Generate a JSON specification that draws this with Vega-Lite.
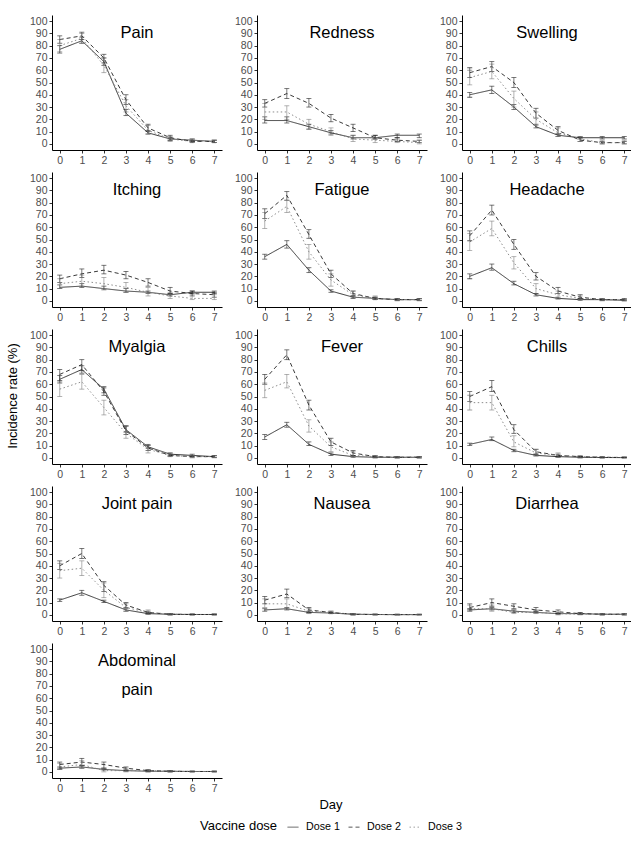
{
"$schema":"https://vega.github.io/schema/vega-lite/v6.json",
"padding":{"left":7,"top":15,"right":2,"bottom":5},
"title":{"text":"Incidence rate  (%)","orient":"left","anchor":"middle","fontSize":13,"fontWeight":"normal","font":"Liberation Sans","color":"#000","offset":9,"dx":28},
"data":{"values":[
{"symptom":"Pain","dose":"Dose 1","day":0,"rate":77,"lo":74,"hi":80},{"symptom":"Pain","dose":"Dose 1","day":1,"rate":84,"lo":82,"hi":87},{"symptom":"Pain","dose":"Dose 1","day":2,"rate":67,"lo":64,"hi":70},{"symptom":"Pain","dose":"Dose 1","day":3,"rate":25,"lo":23,"hi":28},{"symptom":"Pain","dose":"Dose 1","day":4,"rate":9,"lo":8,"hi":11},{"symptom":"Pain","dose":"Dose 1","day":5,"rate":4,"lo":3,"hi":5},{"symptom":"Pain","dose":"Dose 1","day":6,"rate":3,"lo":2,"hi":4},{"symptom":"Pain","dose":"Dose 1","day":7,"rate":2,"lo":1,"hi":3},
{"symptom":"Pain","dose":"Dose 2","day":0,"rate":85,"lo":82,"hi":88},{"symptom":"Pain","dose":"Dose 2","day":1,"rate":88,"lo":85,"hi":91},{"symptom":"Pain","dose":"Dose 2","day":2,"rate":70,"lo":66,"hi":73},{"symptom":"Pain","dose":"Dose 2","day":3,"rate":36,"lo":32,"hi":40},{"symptom":"Pain","dose":"Dose 2","day":4,"rate":13,"lo":10,"hi":16},{"symptom":"Pain","dose":"Dose 2","day":5,"rate":5,"lo":3,"hi":7},{"symptom":"Pain","dose":"Dose 2","day":6,"rate":2,"lo":1,"hi":3},{"symptom":"Pain","dose":"Dose 2","day":7,"rate":2,"lo":1,"hi":3},
{"symptom":"Pain","dose":"Dose 3","day":0,"rate":80,"lo":75,"hi":85},{"symptom":"Pain","dose":"Dose 3","day":1,"rate":86,"lo":82,"hi":90},{"symptom":"Pain","dose":"Dose 3","day":2,"rate":64,"lo":58,"hi":70},{"symptom":"Pain","dose":"Dose 3","day":3,"rate":31,"lo":26,"hi":36},{"symptom":"Pain","dose":"Dose 3","day":4,"rate":11,"lo":8,"hi":15},{"symptom":"Pain","dose":"Dose 3","day":5,"rate":4,"lo":2,"hi":6},{"symptom":"Pain","dose":"Dose 3","day":6,"rate":2,"lo":1,"hi":4},{"symptom":"Pain","dose":"Dose 3","day":7,"rate":2,"lo":1,"hi":3},
{"symptom":"Redness","dose":"Dose 1","day":0,"rate":19,"lo":17,"hi":22},{"symptom":"Redness","dose":"Dose 1","day":1,"rate":19,"lo":17,"hi":22},{"symptom":"Redness","dose":"Dose 1","day":2,"rate":14,"lo":12,"hi":16},{"symptom":"Redness","dose":"Dose 1","day":3,"rate":9,"lo":8,"hi":11},{"symptom":"Redness","dose":"Dose 1","day":4,"rate":5,"lo":4,"hi":7},{"symptom":"Redness","dose":"Dose 1","day":5,"rate":5,"lo":4,"hi":7},{"symptom":"Redness","dose":"Dose 1","day":6,"rate":7,"lo":5,"hi":8},{"symptom":"Redness","dose":"Dose 1","day":7,"rate":7,"lo":5,"hi":8},
{"symptom":"Redness","dose":"Dose 2","day":0,"rate":33,"lo":30,"hi":36},{"symptom":"Redness","dose":"Dose 2","day":1,"rate":41,"lo":37,"hi":45},{"symptom":"Redness","dose":"Dose 2","day":2,"rate":33,"lo":30,"hi":37},{"symptom":"Redness","dose":"Dose 2","day":3,"rate":21,"lo":18,"hi":24},{"symptom":"Redness","dose":"Dose 2","day":4,"rate":13,"lo":10,"hi":16},{"symptom":"Redness","dose":"Dose 2","day":5,"rate":5,"lo":4,"hi":7},{"symptom":"Redness","dose":"Dose 2","day":6,"rate":3,"lo":2,"hi":5},{"symptom":"Redness","dose":"Dose 2","day":7,"rate":2,"lo":1,"hi":3},
{"symptom":"Redness","dose":"Dose 3","day":0,"rate":26,"lo":20,"hi":33},{"symptom":"Redness","dose":"Dose 3","day":1,"rate":26,"lo":20,"hi":31},{"symptom":"Redness","dose":"Dose 3","day":2,"rate":16,"lo":12,"hi":20},{"symptom":"Redness","dose":"Dose 3","day":3,"rate":10,"lo":7,"hi":13},{"symptom":"Redness","dose":"Dose 3","day":4,"rate":4,"lo":2,"hi":7},{"symptom":"Redness","dose":"Dose 3","day":5,"rate":3,"lo":1,"hi":5},{"symptom":"Redness","dose":"Dose 3","day":6,"rate":2,"lo":1,"hi":4},{"symptom":"Redness","dose":"Dose 3","day":7,"rate":1,"lo":0,"hi":3},
{"symptom":"Swelling","dose":"Dose 1","day":0,"rate":40,"lo":38,"hi":42},{"symptom":"Swelling","dose":"Dose 1","day":1,"rate":44,"lo":41,"hi":47},{"symptom":"Swelling","dose":"Dose 1","day":2,"rate":30,"lo":28,"hi":32},{"symptom":"Swelling","dose":"Dose 1","day":3,"rate":14,"lo":13,"hi":16},{"symptom":"Swelling","dose":"Dose 1","day":4,"rate":7,"lo":6,"hi":8},{"symptom":"Swelling","dose":"Dose 1","day":5,"rate":5,"lo":4,"hi":6},{"symptom":"Swelling","dose":"Dose 1","day":6,"rate":5,"lo":4,"hi":6},{"symptom":"Swelling","dose":"Dose 1","day":7,"rate":5,"lo":4,"hi":6},
{"symptom":"Swelling","dose":"Dose 2","day":0,"rate":58,"lo":54,"hi":62},{"symptom":"Swelling","dose":"Dose 2","day":1,"rate":63,"lo":59,"hi":67},{"symptom":"Swelling","dose":"Dose 2","day":2,"rate":50,"lo":46,"hi":54},{"symptom":"Swelling","dose":"Dose 2","day":3,"rate":25,"lo":21,"hi":29},{"symptom":"Swelling","dose":"Dose 2","day":4,"rate":11,"lo":8,"hi":14},{"symptom":"Swelling","dose":"Dose 2","day":5,"rate":3,"lo":2,"hi":5},{"symptom":"Swelling","dose":"Dose 2","day":6,"rate":1,"lo":0,"hi":2},{"symptom":"Swelling","dose":"Dose 2","day":7,"rate":1,"lo":0,"hi":2},
{"symptom":"Swelling","dose":"Dose 3","day":0,"rate":54,"lo":48,"hi":60},{"symptom":"Swelling","dose":"Dose 3","day":1,"rate":59,"lo":53,"hi":65},{"symptom":"Swelling","dose":"Dose 3","day":2,"rate":37,"lo":30,"hi":43},{"symptom":"Swelling","dose":"Dose 3","day":3,"rate":20,"lo":15,"hi":26},{"symptom":"Swelling","dose":"Dose 3","day":4,"rate":9,"lo":6,"hi":13},{"symptom":"Swelling","dose":"Dose 3","day":5,"rate":4,"lo":2,"hi":6},{"symptom":"Swelling","dose":"Dose 3","day":6,"rate":1,"lo":0,"hi":3},{"symptom":"Swelling","dose":"Dose 3","day":7,"rate":1,"lo":0,"hi":3},
{"symptom":"Itching","dose":"Dose 1","day":0,"rate":11,"lo":10,"hi":13},{"symptom":"Itching","dose":"Dose 1","day":1,"rate":12,"lo":11,"hi":14},{"symptom":"Itching","dose":"Dose 1","day":2,"rate":10,"lo":9,"hi":12},{"symptom":"Itching","dose":"Dose 1","day":3,"rate":8,"lo":7,"hi":10},{"symptom":"Itching","dose":"Dose 1","day":4,"rate":7,"lo":6,"hi":8},{"symptom":"Itching","dose":"Dose 1","day":5,"rate":5,"lo":4,"hi":6},{"symptom":"Itching","dose":"Dose 1","day":6,"rate":7,"lo":6,"hi":8},{"symptom":"Itching","dose":"Dose 1","day":7,"rate":7,"lo":6,"hi":8},
{"symptom":"Itching","dose":"Dose 2","day":0,"rate":18,"lo":15,"hi":21},{"symptom":"Itching","dose":"Dose 2","day":1,"rate":22,"lo":19,"hi":26},{"symptom":"Itching","dose":"Dose 2","day":2,"rate":25,"lo":22,"hi":29},{"symptom":"Itching","dose":"Dose 2","day":3,"rate":21,"lo":18,"hi":24},{"symptom":"Itching","dose":"Dose 2","day":4,"rate":15,"lo":12,"hi":18},{"symptom":"Itching","dose":"Dose 2","day":5,"rate":8,"lo":6,"hi":11},{"symptom":"Itching","dose":"Dose 2","day":6,"rate":6,"lo":4,"hi":8},{"symptom":"Itching","dose":"Dose 2","day":7,"rate":5,"lo":3,"hi":7},
{"symptom":"Itching","dose":"Dose 3","day":0,"rate":14,"lo":10,"hi":18},{"symptom":"Itching","dose":"Dose 3","day":1,"rate":16,"lo":12,"hi":21},{"symptom":"Itching","dose":"Dose 3","day":2,"rate":14,"lo":10,"hi":19},{"symptom":"Itching","dose":"Dose 3","day":3,"rate":11,"lo":7,"hi":15},{"symptom":"Itching","dose":"Dose 3","day":4,"rate":7,"lo":4,"hi":11},{"symptom":"Itching","dose":"Dose 3","day":5,"rate":4,"lo":2,"hi":7},{"symptom":"Itching","dose":"Dose 3","day":6,"rate":2,"lo":1,"hi":5},{"symptom":"Itching","dose":"Dose 3","day":7,"rate":2,"lo":1,"hi":5},
{"symptom":"Fatigue","dose":"Dose 1","day":0,"rate":36,"lo":34,"hi":38},{"symptom":"Fatigue","dose":"Dose 1","day":1,"rate":46,"lo":43,"hi":49},{"symptom":"Fatigue","dose":"Dose 1","day":2,"rate":25,"lo":23,"hi":27},{"symptom":"Fatigue","dose":"Dose 1","day":3,"rate":8,"lo":7,"hi":9},{"symptom":"Fatigue","dose":"Dose 1","day":4,"rate":3,"lo":2,"hi":4},{"symptom":"Fatigue","dose":"Dose 1","day":5,"rate":2,"lo":1,"hi":3},{"symptom":"Fatigue","dose":"Dose 1","day":6,"rate":1,"lo":0.5,"hi":2},{"symptom":"Fatigue","dose":"Dose 1","day":7,"rate":1,"lo":0.5,"hi":2},
{"symptom":"Fatigue","dose":"Dose 2","day":0,"rate":71,"lo":67,"hi":75},{"symptom":"Fatigue","dose":"Dose 2","day":1,"rate":86,"lo":82,"hi":89},{"symptom":"Fatigue","dose":"Dose 2","day":2,"rate":54,"lo":51,"hi":58},{"symptom":"Fatigue","dose":"Dose 2","day":3,"rate":22,"lo":19,"hi":25},{"symptom":"Fatigue","dose":"Dose 2","day":4,"rate":6,"lo":4,"hi":8},{"symptom":"Fatigue","dose":"Dose 2","day":5,"rate":2,"lo":1,"hi":3},{"symptom":"Fatigue","dose":"Dose 2","day":6,"rate":1,"lo":0.5,"hi":2},{"symptom":"Fatigue","dose":"Dose 2","day":7,"rate":1,"lo":0.5,"hi":2},
{"symptom":"Fatigue","dose":"Dose 3","day":0,"rate":65,"lo":59,"hi":72},{"symptom":"Fatigue","dose":"Dose 3","day":1,"rate":77,"lo":72,"hi":82},{"symptom":"Fatigue","dose":"Dose 3","day":2,"rate":40,"lo":34,"hi":46},{"symptom":"Fatigue","dose":"Dose 3","day":3,"rate":17,"lo":12,"hi":22},{"symptom":"Fatigue","dose":"Dose 3","day":4,"rate":5,"lo":3,"hi":8},{"symptom":"Fatigue","dose":"Dose 3","day":5,"rate":2,"lo":1,"hi":4},{"symptom":"Fatigue","dose":"Dose 3","day":6,"rate":1,"lo":0,"hi":2},{"symptom":"Fatigue","dose":"Dose 3","day":7,"rate":1,"lo":0,"hi":2},
{"symptom":"Headache","dose":"Dose 1","day":0,"rate":20,"lo":18,"hi":22},{"symptom":"Headache","dose":"Dose 1","day":1,"rate":27,"lo":25,"hi":30},{"symptom":"Headache","dose":"Dose 1","day":2,"rate":14,"lo":13,"hi":16},{"symptom":"Headache","dose":"Dose 1","day":3,"rate":5,"lo":4,"hi":6},{"symptom":"Headache","dose":"Dose 1","day":4,"rate":2,"lo":1.5,"hi":3},{"symptom":"Headache","dose":"Dose 1","day":5,"rate":1,"lo":0.5,"hi":2},{"symptom":"Headache","dose":"Dose 1","day":6,"rate":1,"lo":0.5,"hi":1.5},{"symptom":"Headache","dose":"Dose 1","day":7,"rate":0.5,"lo":0,"hi":1},
{"symptom":"Headache","dose":"Dose 2","day":0,"rate":53,"lo":49,"hi":57},{"symptom":"Headache","dose":"Dose 2","day":1,"rate":74,"lo":70,"hi":78},{"symptom":"Headache","dose":"Dose 2","day":2,"rate":46,"lo":42,"hi":50},{"symptom":"Headache","dose":"Dose 2","day":3,"rate":20,"lo":17,"hi":23},{"symptom":"Headache","dose":"Dose 2","day":4,"rate":8,"lo":6,"hi":11},{"symptom":"Headache","dose":"Dose 2","day":5,"rate":3,"lo":2,"hi":5},{"symptom":"Headache","dose":"Dose 2","day":6,"rate":1,"lo":0.5,"hi":2},{"symptom":"Headache","dose":"Dose 2","day":7,"rate":1,"lo":0.5,"hi":2},
{"symptom":"Headache","dose":"Dose 3","day":0,"rate":48,"lo":41,"hi":55},{"symptom":"Headache","dose":"Dose 3","day":1,"rate":59,"lo":53,"hi":65},{"symptom":"Headache","dose":"Dose 3","day":2,"rate":31,"lo":26,"hi":36},{"symptom":"Headache","dose":"Dose 3","day":3,"rate":10,"lo":6,"hi":14},{"symptom":"Headache","dose":"Dose 3","day":4,"rate":5,"lo":2,"hi":8},{"symptom":"Headache","dose":"Dose 3","day":5,"rate":2,"lo":1,"hi":4},{"symptom":"Headache","dose":"Dose 3","day":6,"rate":1,"lo":0,"hi":2},{"symptom":"Headache","dose":"Dose 3","day":7,"rate":0.5,"lo":0,"hi":1.5},
{"symptom":"Myalgia","dose":"Dose 1","day":0,"rate":64,"lo":61,"hi":67},{"symptom":"Myalgia","dose":"Dose 1","day":1,"rate":72,"lo":69,"hi":75},{"symptom":"Myalgia","dose":"Dose 1","day":2,"rate":56,"lo":53,"hi":58},{"symptom":"Myalgia","dose":"Dose 1","day":3,"rate":23,"lo":21,"hi":26},{"symptom":"Myalgia","dose":"Dose 1","day":4,"rate":9,"lo":8,"hi":11},{"symptom":"Myalgia","dose":"Dose 1","day":5,"rate":3,"lo":2,"hi":4},{"symptom":"Myalgia","dose":"Dose 1","day":6,"rate":2,"lo":1,"hi":3},{"symptom":"Myalgia","dose":"Dose 1","day":7,"rate":1,"lo":0.5,"hi":2},
{"symptom":"Myalgia","dose":"Dose 2","day":0,"rate":68,"lo":63,"hi":72},{"symptom":"Myalgia","dose":"Dose 2","day":1,"rate":76,"lo":71,"hi":80},{"symptom":"Myalgia","dose":"Dose 2","day":2,"rate":54,"lo":51,"hi":57},{"symptom":"Myalgia","dose":"Dose 2","day":3,"rate":22,"lo":19,"hi":26},{"symptom":"Myalgia","dose":"Dose 2","day":4,"rate":8,"lo":6,"hi":10},{"symptom":"Myalgia","dose":"Dose 2","day":5,"rate":2,"lo":1,"hi":3},{"symptom":"Myalgia","dose":"Dose 2","day":6,"rate":1,"lo":0.5,"hi":2},{"symptom":"Myalgia","dose":"Dose 2","day":7,"rate":1,"lo":0.5,"hi":2},
{"symptom":"Myalgia","dose":"Dose 3","day":0,"rate":56,"lo":50,"hi":62},{"symptom":"Myalgia","dose":"Dose 3","day":1,"rate":62,"lo":56,"hi":68},{"symptom":"Myalgia","dose":"Dose 3","day":2,"rate":41,"lo":35,"hi":47},{"symptom":"Myalgia","dose":"Dose 3","day":3,"rate":20,"lo":16,"hi":26},{"symptom":"Myalgia","dose":"Dose 3","day":4,"rate":7,"lo":4,"hi":10},{"symptom":"Myalgia","dose":"Dose 3","day":5,"rate":2,"lo":1,"hi":4},{"symptom":"Myalgia","dose":"Dose 3","day":6,"rate":1,"lo":0,"hi":2},{"symptom":"Myalgia","dose":"Dose 3","day":7,"rate":1,"lo":0,"hi":2},
{"symptom":"Fever","dose":"Dose 1","day":0,"rate":17,"lo":15,"hi":19},{"symptom":"Fever","dose":"Dose 1","day":1,"rate":27,"lo":25,"hi":29},{"symptom":"Fever","dose":"Dose 1","day":2,"rate":11,"lo":10,"hi":13},{"symptom":"Fever","dose":"Dose 1","day":3,"rate":3,"lo":2,"hi":4},{"symptom":"Fever","dose":"Dose 1","day":4,"rate":1,"lo":0.5,"hi":2},{"symptom":"Fever","dose":"Dose 1","day":5,"rate":0.5,"lo":0,"hi":1},{"symptom":"Fever","dose":"Dose 1","day":6,"rate":0.5,"lo":0,"hi":1},{"symptom":"Fever","dose":"Dose 1","day":7,"rate":0.5,"lo":0,"hi":1},
{"symptom":"Fever","dose":"Dose 2","day":0,"rate":64,"lo":60,"hi":68},{"symptom":"Fever","dose":"Dose 2","day":1,"rate":84,"lo":80,"hi":88},{"symptom":"Fever","dose":"Dose 2","day":2,"rate":43,"lo":39,"hi":47},{"symptom":"Fever","dose":"Dose 2","day":3,"rate":13,"lo":10,"hi":16},{"symptom":"Fever","dose":"Dose 2","day":4,"rate":4,"lo":2,"hi":6},{"symptom":"Fever","dose":"Dose 2","day":5,"rate":1,"lo":0.5,"hi":2},{"symptom":"Fever","dose":"Dose 2","day":6,"rate":0.5,"lo":0,"hi":1},{"symptom":"Fever","dose":"Dose 2","day":7,"rate":0.5,"lo":0,"hi":1},
{"symptom":"Fever","dose":"Dose 3","day":0,"rate":55,"lo":49,"hi":61},{"symptom":"Fever","dose":"Dose 3","day":1,"rate":62,"lo":57,"hi":68},{"symptom":"Fever","dose":"Dose 3","day":2,"rate":26,"lo":21,"hi":31},{"symptom":"Fever","dose":"Dose 3","day":3,"rate":9,"lo":5,"hi":13},{"symptom":"Fever","dose":"Dose 3","day":4,"rate":2,"lo":1,"hi":5},{"symptom":"Fever","dose":"Dose 3","day":5,"rate":1,"lo":0,"hi":2},{"symptom":"Fever","dose":"Dose 3","day":6,"rate":0.5,"lo":0,"hi":1},{"symptom":"Fever","dose":"Dose 3","day":7,"rate":0.5,"lo":0,"hi":1},
{"symptom":"Chills","dose":"Dose 1","day":0,"rate":11,"lo":10,"hi":12},{"symptom":"Chills","dose":"Dose 1","day":1,"rate":15,"lo":14,"hi":17},{"symptom":"Chills","dose":"Dose 1","day":2,"rate":6,"lo":5,"hi":7},{"symptom":"Chills","dose":"Dose 1","day":3,"rate":2,"lo":1.5,"hi":3},{"symptom":"Chills","dose":"Dose 1","day":4,"rate":1,"lo":0.5,"hi":1.5},{"symptom":"Chills","dose":"Dose 1","day":5,"rate":0.5,"lo":0,"hi":1},{"symptom":"Chills","dose":"Dose 1","day":6,"rate":0.3,"lo":0,"hi":0.6},{"symptom":"Chills","dose":"Dose 1","day":7,"rate":0.2,"lo":0,"hi":0.5},
{"symptom":"Chills","dose":"Dose 2","day":0,"rate":50,"lo":46,"hi":54},{"symptom":"Chills","dose":"Dose 2","day":1,"rate":58,"lo":54,"hi":63},{"symptom":"Chills","dose":"Dose 2","day":2,"rate":23,"lo":20,"hi":27},{"symptom":"Chills","dose":"Dose 2","day":3,"rate":5,"lo":3,"hi":7},{"symptom":"Chills","dose":"Dose 2","day":4,"rate":2,"lo":1,"hi":3},{"symptom":"Chills","dose":"Dose 2","day":5,"rate":1,"lo":0.5,"hi":1.5},{"symptom":"Chills","dose":"Dose 2","day":6,"rate":0.5,"lo":0,"hi":1},{"symptom":"Chills","dose":"Dose 2","day":7,"rate":0.3,"lo":0,"hi":0.6},
{"symptom":"Chills","dose":"Dose 3","day":0,"rate":45,"lo":39,"hi":51},{"symptom":"Chills","dose":"Dose 3","day":1,"rate":45,"lo":39,"hi":51},{"symptom":"Chills","dose":"Dose 3","day":2,"rate":13,"lo":9,"hi":18},{"symptom":"Chills","dose":"Dose 3","day":3,"rate":4,"lo":2,"hi":7},{"symptom":"Chills","dose":"Dose 3","day":4,"rate":2,"lo":0.5,"hi":4},{"symptom":"Chills","dose":"Dose 3","day":5,"rate":1,"lo":0,"hi":2},{"symptom":"Chills","dose":"Dose 3","day":6,"rate":0.5,"lo":0,"hi":1},{"symptom":"Chills","dose":"Dose 3","day":7,"rate":0.3,"lo":0,"hi":1},
{"symptom":"Joint pain","dose":"Dose 1","day":0,"rate":12,"lo":11,"hi":13},{"symptom":"Joint pain","dose":"Dose 1","day":1,"rate":18,"lo":16,"hi":20},{"symptom":"Joint pain","dose":"Dose 1","day":2,"rate":11,"lo":10,"hi":12},{"symptom":"Joint pain","dose":"Dose 1","day":3,"rate":4,"lo":3,"hi":5},{"symptom":"Joint pain","dose":"Dose 1","day":4,"rate":1,"lo":0.5,"hi":2},{"symptom":"Joint pain","dose":"Dose 1","day":5,"rate":0.5,"lo":0,"hi":1},{"symptom":"Joint pain","dose":"Dose 1","day":6,"rate":0.3,"lo":0,"hi":0.6},{"symptom":"Joint pain","dose":"Dose 1","day":7,"rate":0.3,"lo":0,"hi":0.6},
{"symptom":"Joint pain","dose":"Dose 2","day":0,"rate":40,"lo":37,"hi":44},{"symptom":"Joint pain","dose":"Dose 2","day":1,"rate":50,"lo":46,"hi":54},{"symptom":"Joint pain","dose":"Dose 2","day":2,"rate":24,"lo":19,"hi":27},{"symptom":"Joint pain","dose":"Dose 2","day":3,"rate":8,"lo":6,"hi":10},{"symptom":"Joint pain","dose":"Dose 2","day":4,"rate":2,"lo":1,"hi":3},{"symptom":"Joint pain","dose":"Dose 2","day":5,"rate":0.5,"lo":0,"hi":1},{"symptom":"Joint pain","dose":"Dose 2","day":6,"rate":0.3,"lo":0,"hi":0.6},{"symptom":"Joint pain","dose":"Dose 2","day":7,"rate":0.3,"lo":0,"hi":0.6},
{"symptom":"Joint pain","dose":"Dose 3","day":0,"rate":36,"lo":30,"hi":42},{"symptom":"Joint pain","dose":"Dose 3","day":1,"rate":38,"lo":32,"hi":44},{"symptom":"Joint pain","dose":"Dose 3","day":2,"rate":20,"lo":14,"hi":26},{"symptom":"Joint pain","dose":"Dose 3","day":3,"rate":6,"lo":3,"hi":9},{"symptom":"Joint pain","dose":"Dose 3","day":4,"rate":2,"lo":0.5,"hi":4},{"symptom":"Joint pain","dose":"Dose 3","day":5,"rate":0.5,"lo":0,"hi":1},{"symptom":"Joint pain","dose":"Dose 3","day":6,"rate":0.3,"lo":0,"hi":1},{"symptom":"Joint pain","dose":"Dose 3","day":7,"rate":0.3,"lo":0,"hi":1},
{"symptom":"Nausea","dose":"Dose 1","day":0,"rate":4,"lo":3,"hi":5},{"symptom":"Nausea","dose":"Dose 1","day":1,"rate":5,"lo":4,"hi":6},{"symptom":"Nausea","dose":"Dose 1","day":2,"rate":2,"lo":1.5,"hi":3},{"symptom":"Nausea","dose":"Dose 1","day":3,"rate":1.5,"lo":1,"hi":2},{"symptom":"Nausea","dose":"Dose 1","day":4,"rate":0.5,"lo":0,"hi":1},{"symptom":"Nausea","dose":"Dose 1","day":5,"rate":0.3,"lo":0,"hi":0.6},{"symptom":"Nausea","dose":"Dose 1","day":6,"rate":0.2,"lo":0,"hi":0.5},{"symptom":"Nausea","dose":"Dose 1","day":7,"rate":0.2,"lo":0,"hi":0.5},
{"symptom":"Nausea","dose":"Dose 2","day":0,"rate":12,"lo":9,"hi":15},{"symptom":"Nausea","dose":"Dose 2","day":1,"rate":17,"lo":14,"hi":21},{"symptom":"Nausea","dose":"Dose 2","day":2,"rate":4,"lo":2,"hi":6},{"symptom":"Nausea","dose":"Dose 2","day":3,"rate":2,"lo":1,"hi":3},{"symptom":"Nausea","dose":"Dose 2","day":4,"rate":0.5,"lo":0,"hi":1},{"symptom":"Nausea","dose":"Dose 2","day":5,"rate":0.3,"lo":0,"hi":0.6},{"symptom":"Nausea","dose":"Dose 2","day":6,"rate":0.2,"lo":0,"hi":0.5},{"symptom":"Nausea","dose":"Dose 2","day":7,"rate":0.2,"lo":0,"hi":0.5},
{"symptom":"Nausea","dose":"Dose 3","day":0,"rate":9,"lo":6,"hi":13},{"symptom":"Nausea","dose":"Dose 3","day":1,"rate":9,"lo":5,"hi":13},{"symptom":"Nausea","dose":"Dose 3","day":2,"rate":3,"lo":1,"hi":5},{"symptom":"Nausea","dose":"Dose 3","day":3,"rate":2,"lo":1,"hi":3},{"symptom":"Nausea","dose":"Dose 3","day":4,"rate":0.5,"lo":0,"hi":1},{"symptom":"Nausea","dose":"Dose 3","day":5,"rate":0.3,"lo":0,"hi":0.6},{"symptom":"Nausea","dose":"Dose 3","day":6,"rate":0.2,"lo":0,"hi":0.5},{"symptom":"Nausea","dose":"Dose 3","day":7,"rate":0.2,"lo":0,"hi":0.5},
{"symptom":"Diarrhea","dose":"Dose 1","day":0,"rate":4,"lo":3,"hi":5},{"symptom":"Diarrhea","dose":"Dose 1","day":1,"rate":5,"lo":4,"hi":6},{"symptom":"Diarrhea","dose":"Dose 1","day":2,"rate":3,"lo":2,"hi":4},{"symptom":"Diarrhea","dose":"Dose 1","day":3,"rate":2,"lo":1.5,"hi":3},{"symptom":"Diarrhea","dose":"Dose 1","day":4,"rate":1,"lo":0.5,"hi":1.5},{"symptom":"Diarrhea","dose":"Dose 1","day":5,"rate":1,"lo":0.5,"hi":1.5},{"symptom":"Diarrhea","dose":"Dose 1","day":6,"rate":0.5,"lo":0,"hi":1},{"symptom":"Diarrhea","dose":"Dose 1","day":7,"rate":0.5,"lo":0,"hi":1},
{"symptom":"Diarrhea","dose":"Dose 2","day":0,"rate":6,"lo":4,"hi":9},{"symptom":"Diarrhea","dose":"Dose 2","day":1,"rate":10,"lo":7,"hi":13},{"symptom":"Diarrhea","dose":"Dose 2","day":2,"rate":7,"lo":5,"hi":9},{"symptom":"Diarrhea","dose":"Dose 2","day":3,"rate":4,"lo":3,"hi":6},{"symptom":"Diarrhea","dose":"Dose 2","day":4,"rate":2.5,"lo":1,"hi":4},{"symptom":"Diarrhea","dose":"Dose 2","day":5,"rate":1,"lo":0.5,"hi":2},{"symptom":"Diarrhea","dose":"Dose 2","day":6,"rate":0.5,"lo":0,"hi":1},{"symptom":"Diarrhea","dose":"Dose 2","day":7,"rate":0.5,"lo":0,"hi":1},
{"symptom":"Diarrhea","dose":"Dose 3","day":0,"rate":5,"lo":3,"hi":8},{"symptom":"Diarrhea","dose":"Dose 3","day":1,"rate":5,"lo":3,"hi":8},{"symptom":"Diarrhea","dose":"Dose 3","day":2,"rate":2,"lo":1,"hi":4},{"symptom":"Diarrhea","dose":"Dose 3","day":3,"rate":2,"lo":1,"hi":4},{"symptom":"Diarrhea","dose":"Dose 3","day":4,"rate":1,"lo":0,"hi":2},{"symptom":"Diarrhea","dose":"Dose 3","day":5,"rate":0.5,"lo":0,"hi":1},{"symptom":"Diarrhea","dose":"Dose 3","day":6,"rate":0.5,"lo":0,"hi":1},{"symptom":"Diarrhea","dose":"Dose 3","day":7,"rate":0.5,"lo":0,"hi":1},
{"symptom":"Abdominal\npain","dose":"Dose 1","day":0,"rate":3,"lo":2,"hi":4},{"symptom":"Abdominal\npain","dose":"Dose 1","day":1,"rate":4,"lo":3,"hi":5},{"symptom":"Abdominal\npain","dose":"Dose 1","day":2,"rate":2,"lo":1.5,"hi":3},{"symptom":"Abdominal\npain","dose":"Dose 1","day":3,"rate":1,"lo":0.5,"hi":1.5},{"symptom":"Abdominal\npain","dose":"Dose 1","day":4,"rate":0.5,"lo":0,"hi":1},{"symptom":"Abdominal\npain","dose":"Dose 1","day":5,"rate":0.5,"lo":0,"hi":1},{"symptom":"Abdominal\npain","dose":"Dose 1","day":6,"rate":0.3,"lo":0,"hi":0.6},{"symptom":"Abdominal\npain","dose":"Dose 1","day":7,"rate":0.3,"lo":0,"hi":0.6},
{"symptom":"Abdominal\npain","dose":"Dose 2","day":0,"rate":6,"lo":3,"hi":8},{"symptom":"Abdominal\npain","dose":"Dose 2","day":1,"rate":8,"lo":5,"hi":11},{"symptom":"Abdominal\npain","dose":"Dose 2","day":2,"rate":6,"lo":3,"hi":8},{"symptom":"Abdominal\npain","dose":"Dose 2","day":3,"rate":3,"lo":1.5,"hi":4},{"symptom":"Abdominal\npain","dose":"Dose 2","day":4,"rate":1,"lo":0.5,"hi":2},{"symptom":"Abdominal\npain","dose":"Dose 2","day":5,"rate":0.5,"lo":0,"hi":1},{"symptom":"Abdominal\npain","dose":"Dose 2","day":6,"rate":0.3,"lo":0,"hi":0.6},{"symptom":"Abdominal\npain","dose":"Dose 2","day":7,"rate":0.3,"lo":0,"hi":0.6},
{"symptom":"Abdominal\npain","dose":"Dose 3","day":0,"rate":4,"lo":2,"hi":7},{"symptom":"Abdominal\npain","dose":"Dose 3","day":1,"rate":6,"lo":3,"hi":9},{"symptom":"Abdominal\npain","dose":"Dose 3","day":2,"rate":1,"lo":0,"hi":3},{"symptom":"Abdominal\npain","dose":"Dose 3","day":3,"rate":1,"lo":0,"hi":3},{"symptom":"Abdominal\npain","dose":"Dose 3","day":4,"rate":1,"lo":0,"hi":2},{"symptom":"Abdominal\npain","dose":"Dose 3","day":5,"rate":0.5,"lo":0,"hi":1},{"symptom":"Abdominal\npain","dose":"Dose 3","day":6,"rate":0.3,"lo":0,"hi":0.6},{"symptom":"Abdominal\npain","dose":"Dose 3","day":7,"rate":0.3,"lo":0,"hi":0.6}
]},
"facet":{"field":"symptom","type":"nominal","sort":["Pain","Redness","Swelling","Itching","Fatigue","Headache","Myalgia","Fever","Chills","Joint pain","Nausea","Diarrhea","Abdominal\npain"],
 "header":{"labelExpr":"''","labelFontSize":0,"labelPadding":0,"title":"Day","titleOrient":"bottom","titleFontSize":13,"titleFont":"Liberation Sans","titleFontWeight":"normal","titleColor":"#000","titlePadding":5}},
"columns":3,
"spacing":{"row":6,"column":12},
"resolve":{"axis":{"x":"independent","y":"independent"}},
"spec":{
 "width":170,"height":135,
 "layer":[
  {"mark":{"type":"line","strokeWidth":0.9},
   "encoding":{
    "x":{"field":"day","type":"quantitative","scale":{"domain":[-0.35,7.35],"nice":false,"zero":false},"axis":{"title":null,"values":[0,1,2,3,4,5,6,7],"tickCount":8,"labelAngle":0,"labelFlush":false,"labelOverlap":false}},
    "y":{"field":"rate","type":"quantitative","scale":{"domain":[-5,105],"nice":false,"zero":false},"axis":{"title":null,"values":[0,10,20,30,40,50,60,70,80,90,100],"tickCount":11,"labelOverlap":false}},
    "color":{"field":"dose","type":"nominal","scale":{"domain":["Dose 1","Dose 2","Dose 3"],"range":["#222222","#222222","#808080"]},"legend":{"title":"Vaccine dose"}},
    "strokeDash":{"field":"dose","type":"nominal","scale":{"domain":["Dose 1","Dose 2","Dose 3"],"range":[[1,0],[4,3],[1.5,2.5]]},"legend":{"title":"Vaccine dose"}}}},
  {"mark":{"type":"errorbar","ticks":{"size":5},"thickness":0.8,"opacity":0.75},
   "encoding":{
    "x":{"field":"day","type":"quantitative","axis":{"title":null,"values":[0,1,2,3,4,5,6,7],"tickCount":8,"labelAngle":0,"labelFlush":false,"labelOverlap":false}},
    "y":{"field":"lo","type":"quantitative","axis":{"title":null,"values":[0,10,20,30,40,50,60,70,80,90,100],"tickCount":11,"labelOverlap":false}},
    "y2":{"field":"hi"},
    "color":{"field":"dose","type":"nominal","legend":{"title":"Vaccine dose"}}}},
  {"transform":[{"filter":"datum.day == 0 && datum.dose == 'Dose 1'"}],
   "mark":{"type":"text","fontSize":16.5,"font":"Liberation Sans","color":"#000","lineBreak":"\n","lineHeight":29,"baseline":"middle","align":"center"},
   "encoding":{"x":{"datum":3.5,"type":"quantitative"},"y":{"datum":90,"type":"quantitative"},"text":{"field":"symptom","type":"nominal"}}}
 ]
},
"config":{
 "view":{"stroke":null},
 "font":"Liberation Sans",
 "axis":{"grid":false,"labelFont":"Liberation Sans","labelFontSize":10.5,"labelColor":"#4d4d4d","tickColor":"#333333","tickSize":3,"labelPadding":2,"domainColor":"#000000","domainWidth":1},
 "legend":{"orient":"bottom","direction":"horizontal","titleOrient":"left","titlePadding":9,"symbolType":"stroke","symbolStrokeWidth":1,"symbolSize":121,"labelFontSize":10.7,"labelOffset":7,"titleFontSize":13,"titleFontWeight":"normal","titleColor":"#000","labelColor":"#000","labelFont":"Liberation Sans","titleFont":"Liberation Sans","offset":9,"columnPadding":6,"layout":{"bottom":{"anchor":"middle"}}}
}
}
